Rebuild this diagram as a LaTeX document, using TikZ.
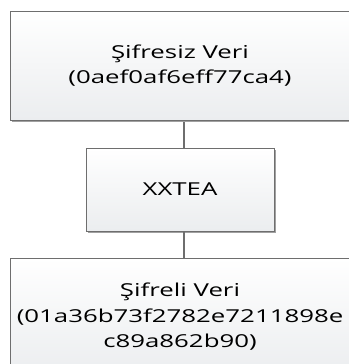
\documentclass[tikz,border=0pt]{standalone}
\usepackage{fontspec}
\usepackage{graphicx}
\setmainfont{Open Sans}
\usetikzlibrary{shadows}
\definecolor{edge}{RGB}{110,110,110}
\definecolor{boxbot}{RGB}{235,237,239}
\definecolor{shade}{RGB}{160,160,160}
% wide lettering used in all boxes
\newcommand{\wide}[1]{\scalebox{1.45}[1]{#1}}
\tikzset{
  box/.style={draw=edge, line width=0.9pt, rectangle, inner sep=0pt,
    top color=white, bottom color=boxbot,
    drop shadow={shadow xshift=2pt, shadow yshift=-2pt, fill=shade, opacity=1},
    align=center, font=\fontsize{17.8}{25.5}\selectfont, text=black},
  link/.style={draw=edge, line width=1.1pt}
}
\begin{document}
\begin{tikzpicture}[x=1pt, y=-1pt]
  \useasboundingbox (0,0) rectangle (348,364);
  \node[box, minimum width=340pt, minimum height=109pt] (plain) at (180,65.5)
    {\wide{Şifresiz Veri}\\\wide{(0aef0af6eff77ca4)}};
  \node[box, minimum width=188pt, minimum height=83pt] (algo) at (180,189.5)
    {\wide{XXTEA}};
  \node[box, minimum width=340pt, minimum height=118pt] (cipher) at (180,317)
    {\wide{Şifreli Veri}\\\wide{(01a36b73f2782e7211898e}\\\wide{c89a862b90)}};
  % connectors run just right of the centre line
  \coordinate (upper) at ([xshift=4pt,yshift=-2pt]plain.south);
  \draw[link] (upper) -- (upper |- algo.north);
  \draw[link] ([xshift=4pt]algo.south) -- ([xshift=4pt]algo.south |- cipher.north);
\end{tikzpicture}
\end{document}
